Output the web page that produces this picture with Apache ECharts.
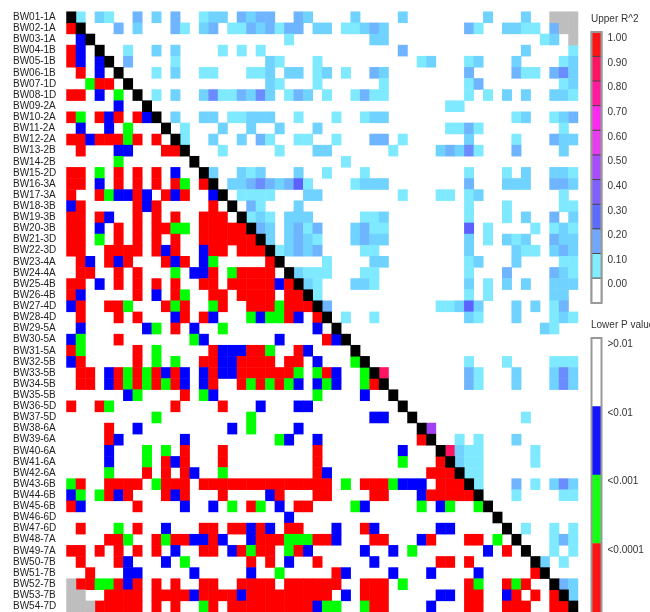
<!DOCTYPE html>
<html>
<head>
<meta charset="utf-8">
<style>html,body{margin:0;padding:0;background:#fff;overflow:hidden}#box1{width:650px;height:612px}</style>
<script src="https://cdn.jsdelivr.net/npm/echarts@6/dist/echarts.min.js"></script>
</head>
<body>
<div id="box1"></div>
<script>
var markers = ['BW01-1A','BW02-1A','BW03-1A','BW04-1B','BW05-1B','BW06-1B','BW07-1D','BW08-1D','BW09-2A','BW10-2A','BW11-2A','BW12-2A','BW13-2B','BW14-2B','BW15-2D','BW16-3A','BW17-3A','BW18-3B','BW19-3B','BW20-3B','BW21-3D','BW22-3D','BW23-4A','BW24-4A','BW25-4B','BW26-4B','BW27-4D','BW28-4D','BW29-5A','BW30-5A','BW31-5A','BW32-5B','BW33-5B','BW34-5B','BW35-5B','BW36-5D','BW37-5D','BW38-6A','BW39-6A','BW40-6A','BW41-6A','BW42-6A','BW43-6B','BW44-6B','BW45-6B','BW46-6D','BW47-6D','BW48-7A','BW49-7A','BW50-7B','BW51-7B','BW52-7B','BW53-7B','BW54-7D'];

// upper triangle, one string per marker: column(s):R^2
var upperR2 = [
'1:.06 3:.1 4:.06 7:.15 9:.1 11:.15 14:.06 15-16:.1 18:.15 19:.1 20-21:.15 24:.15 25:.1 30:.1 35:.1 44:.1 48:.1',
'5:.15 7:.1 11:.15 12:.06 14:.1 15:.15 17-18:.06 19:.15 20:.1 21:.15 22:.06 23-24:.15 26-27:.1 29-30:.06 31:.1 32:.15 33:.1 42:.15 43:.06 46-47:.1 48-49:.06 51:.15',
'23:.06 32-33:.1 50:.06 51:.1',
'6:.06 9:.1 11:.1 16:.06 18:.06 20:.06 35:.15 48:.1 53:.06',
'6:.15 11:.06 21:.1 22:.06 26:.06 37:.06 38:.1 42:.06 43:.1 47:.1 52:.06 53:.1',
'9:.06 11:.1 14-15:.06 19-20:.06 21:.1 23-24:.1 26:.06 27:.1 29:.06 32:.15 33:.1 42:.15 47:.15 48-49:.06 51:.15 52:.22 53:.1',
'21:.1 22:.06 26:.06 33:.06 42:.06 43:.15 52:.06 53:.1',
'9:.06 11:.1 14:.1 15:.22 16-17:.06 18:.15 19:.1 20:.22 21:.1 23:.06 24:.15 25:.1 27:.06 30:.06 31:.15 32-33:.06 42:.06 44:.06 46:.1 48:.1 51-52:.1 53:.06',
'40-41:.06',
'11:.1 14-15:.1 17-18:.06 19-21:.1 24:.06 28:.06 31:.06 32-33:.1 47:.06 48:.1 51:.06 52:.1 53:.15',
'12:.06 16:.1 19:.1 22:.1 26:.1 40-41:.06 42:.15 43:.06 52:.06',
'12:.06 15:.1 18:.1 20:.15 21:.06 24-25:.06 28:.06 32-33:.15 35:.06 42:.1 47:.06 51:.15 52-53:.1',
'16:.06 22:.06 26-27:.1 34:.06 39:.1 40:.15 41:.1 42:.22 43:.06 47:.15 52:.1',
'29:.06',
'15:.1 18:.1 19:.06 20:.1 24:.1 27:.06 31:.06 42:.06 46:.06 48:.1 51-52:.1 53:.06',
'17-18:.1 19:.15 20:.22 21:.15 22:.1 23:.15 24:.28 25:.06 30:.06 31-33:.1 42:.15 46-48:.1 51-52:.15 53:.1',
'18-21:.06 25-26:.1 35:.06 39-40:.06 42:.06 43:.1 52:.06',
'19:.15 20:.06 24:.1 42:.06 46:.06 52-53:.06',
'19:.06 20:.1 21:.06 23-25:.1 31-32:.06 33:.1 42:.06 46:.06 48:.1 51:.15 53:.1',
'20:.15 21:.1 23:.1 24:.15 25:.06 26:.15 30:.1 31:.15 32-33:.06 42:.28 44:.06 49:.06 51:.06 52:.1 53:.06',
'21:.1 23:.1 24:.15 25:.1 26:.06 30:.1 31:.15 32-33:.1 42:.1 44:.06 46:.1 47:.06 48:.1 51:.15 52-53:.1',
'22:.06 23:.1 24:.15 25:.1 26:.15 31-32:.06 42:.1 47:.1 48-49:.06 51:.1 52:.15 53:.1',
'27:.06 32-33:.1 42:.06 43:.1 47:.1 52-53:.06',
'24:.1 25-27:.06 31-32:.06 42:.06 46:.15 51:.15 52:.1 53:.06',
'25:.1 26:.06 30-31:.1 32:.06 42:.1 44:.06 46:.1 48:.1 51-53:.1',
'26:.06 42:.06 44:.06 51-52:.1',
'27:.15 39-40:.06 41:.1 42:.28 43:.1 47:.1 49:.1 51:.06 52:.15',
'29:.06 32:.06 42:.1 43:.06 47:.1 51:.06 52:.1 53:.06',
'50:.1 51:.06',
'',
'',
'42:.06 46:.06 51-53:.06',
'33:.9 42:.15 43:.06 47:.1 51:.1 52:.22 53:.1',
'42:.15 43:.06 47:.1 51:.1 52:.22 53:.1',
'',
'',
'48:.06',
'38:.55',
'41:.06 43:.06 47:.1',
'40:.9 41:.1 42-43:.06 49:.06',
'41:.1 42-43:.06 49:.06',
'42-43:.06',
'43:.06 47:.15 49:.06 51:.1 52:.22 53:.1',
'47:.06 52-53:.06',
'',
'',
'48:.06 51:.06 53:.06',
'51:.06 52:.15 53:.06',
'51:.06 53:.06',
'50:.1 52:.06',
'',
'52:.15 53:.1',
'53:.1',
''
];

// lower triangle: r <0.0001, g <0.001, b <0.01, then column(s)
var lowerP = [
'',
'r0',
'b1',
'r0 b1',
'r0 b1 b3',
'r1 b3',
'g2 r3-4',
'r0-1 b3 g5',
'b5',
'r0 g1 r3 b4 r5 r7 b8',
'b1 b4 g6',
'r0-1 b2 r3-5 g6 r7 r9',
'r1 b5-6 r10-11',
'g5',
'r0-1 g3 r5 r7 r9 b11',
'r0-1 b3 r5 r7 r9 r11 g12 r14',
'r0 r3 g4 b5-6 r7 b8 r10 b11 r12 b15',
'b0 r1 r7 b8 r9 r15',
'r0-1 r3 b4 r7 r9 r11 r14-16',
'r0-1 b3 r5 r7 r9-10 g11-12 r14-18',
'r0-1 g3 r5 r7 r9 r11 r14-19',
'r0-1 r4-7 r9 b10 r11 b14 r15-16 r18-20',
'r1 b2 r4 b5 r6 r10 b11 r12 b14 g15 r21',
'r1-2 r5 r7 g11 b13-14 r15 g17 r18-21',
'r0-1 b3 r5 r7 r9 r11 r14-15 r17-21 b22 r23',
'r0 b1 r7 b9 r11 g12 r15-16 r18-21 r23-24',
'b0 r1 r4-5 g6 r10 g11 r12 g15 r16 r19-21 g22 r23-25',
'r1 r5 r7 b11 r12 r14 b15 g19 b20 g21-22 r23 b24 r26',
'b1 b8 g9 r11 b13 g16 b26',
'b0 g1 r5 g13 b14 b22 r27 b28',
'r0 g1 r7 g9 r15 b16-18 r19-20 g21 r24 b25',
'b0 r1 r7 g9 g11 r14-15 b16-17 r18-21 r23-24 b26 g30',
'r1-2 b4 r5 g6 r7 g8 r9 b10 r11 b12 b14 r15 b16-17 r18-23 g24 g26 r27 b28 g31',
'r1-2 b4 r5 g6 r7 g8 r9 g10 r11 b12 b14 r15 r18 g19 r20 g21 r22 g23 b24 b26 g27 b28 g31 r32',
'b6 g7 r12 g14 b15 g26 b31',
'r0 r3 g4 r11 r16 b20 b24-25',
'g9 g19 b32-33',
'r4 b7 b17 g19 b24',
'r4 b5 b12 g22 b23 b26 r37',
'b4 g8 g10 r12 r16 r26 b35',
'b4 g8 r10 b11 r12 r16 r26 g35 r39',
'g4 r8 r10 r12 b13 g16 r26 b27 r38-40',
'g0 r1 r4-7 g9 r10-12 r14-27 g29 r31-33 g34 b35-37 r39-41',
'b0 g1 g3 r4 b5 r6 r10 b11 r12 r16 b21 r22 r26-27 r32-33 b37 r38-42',
'r0 b1 r7 b12 b15 g17 r19 g20 b22 r24-25 g30 b31 g37 b39 g40 g43',
'b23',
'r1 g5 r7 b10 r14-15 r17-18 b19 r20 b21 r23-24 b28 r31 b32 b39-40',
'r4-5 g6 r9 g10 r11-12 b13-14 r15 b16 b19 r20-22 g23-25 r26-27 b28 r32-33 b37 r38 r42-43 g45',
'r0-1 r3 r5 r7 r9 b11 r14-15 b17 r18 g19 r20-21 g23 r24 b25 b31 b34 g36 b44 r46',
'r1 r5 b6 b10 g12 r19 r21 b23 r26 b32 r39-40 r42',
'r2 b6-7 b13 b19 g22 r28 b29 b34 b38 b43 r49',
'r1-2 g3-4 r5 b6 r7 r9 r11 r14-15 r18-21 r23-28 r31-33 g35 r42 g43 r46 g47 r48',
'r4-7 r9-12 b13 r14-17 b18 r19-27 b29 r31-33 b39-40 r42-43 b46 r47 r49 r51',
'r3-7 r9 r11 g14 r15 r17-25 b26 g27-28 g31 r32-33 b38 r42-43 r46-48 r51-52'
];

var missingCells = [[51,0],[52,0],[53,0],[52,1],[53,1],[53,2],[0,51],[0,52],[1,52],[0,53],[1,53],[2,53]];

var r2Labels = ['1.00','0.90','0.80','0.70','0.60','0.50','0.40','0.30','0.20','0.10','0.00'];
var r2Colors = ['#ff1414','#ff1464','#ff1aa0','#ff28f0','#e83cf0','#a84cff','#8060ff','#5c6cff','#70a8ff','#80eeff','#ffffff'];
var pLabels = ['>0.01','<0.01','<0.001','<0.0001'];
var pColors = ['#ffffff','#1414ff','#14ff14','#ff1414'];

var pCode = { r: '#ff0000', g: '#00ff00', b: '#0000ff' };

function expand(spec) {
    var parts = spec.split('-').map(Number);
    var out = [];
    for (var c = parts[0]; c <= parts[parts.length - 1]; c++) out.push(c);
    return out;
}

var upperData = [];
upperR2.forEach(function (row, y) {
    if (!row) return;
    row.split(' ').forEach(function (tok) {
        var t = tok.split(':');
        expand(t[0]).forEach(function (x) {
            upperData.push([x, y, parseFloat(t[1])]);
        });
    });
});

var lowerData = [];
lowerP.forEach(function (row, y) {
    if (!row) return;
    row.split(' ').forEach(function (tok) {
        expand(tok.slice(1)).forEach(function (x) {
            lowerData.push({ value: [x, y, 1], itemStyle: { color: pCode[tok[0]] } });
        });
    });
});

var diagData = markers.map(function (m, i) { return [i, i, 1]; });

var myChart = echarts.init(document.getElementById('box1'), null, { renderer: 'canvas' });

var font = 'Liberation Sans';
var labelColor = '#333';

var option = {
    animation: false,
    backgroundColor: '#fff',
    title: [
        { text: 'Upper R^2', left: 586, top: 9, textStyle: { fontFamily: font, fontSize: 10, fontWeight: 'normal', color: labelColor } },
        { text: 'Lower P value', left: 586, top: 315, textStyle: { fontFamily: font, fontSize: 10, fontWeight: 'normal', color: labelColor } }
    ],
    grid: [
        { left: 66.5, top: 11.7, width: 511.5, height: 601.2 },
        { left: 591.5, top: 32, width: 10, height: 271 },
        { left: 591.5, top: 338, width: 10, height: 276 }
    ],
    xAxis: [
        { type: 'category', data: markers, gridIndex: 0, show: false },
        { type: 'category', data: ['k'], gridIndex: 1, show: false },
        { type: 'category', data: ['k'], gridIndex: 2, show: false }
    ],
    yAxis: [
        {
            type: 'category', data: markers, gridIndex: 0, inverse: true,
            axisLine: { show: false }, axisTick: { show: false },
            axisLabel: { interval: 0, align: 'left', margin: 53.5, fontFamily: font, fontSize: 10, color: '#222' }
        },
        {
            type: 'category', data: r2Labels, gridIndex: 1, inverse: true, position: 'right',
            axisLine: { show: false }, axisTick: { show: false },
            axisLabel: { interval: 0, margin: 6, verticalAlign: 'bottom', lineHeight: 12, fontFamily: font, fontSize: 10, color: labelColor }
        },
        {
            type: 'category', data: pLabels, gridIndex: 2, inverse: true, position: 'right',
            axisLine: { show: false }, axisTick: { show: false },
            axisLabel: { interval: 0, margin: 6, verticalAlign: 'bottom', lineHeight: 56, fontFamily: font, fontSize: 10, color: labelColor }
        }
    ],
    visualMap: [{
        show: false,
        type: 'piecewise',
        seriesIndex: 0,
        dimension: 2,
        pieces: [
            { value: 0.06, color: '#7feaff' },
            { value: 0.1, color: '#70d2ff' },
            { value: 0.15, color: '#6eb4ff' },
            { value: 0.22, color: '#6a8cff' },
            { value: 0.28, color: '#5c60ff' },
            { value: 0.55, color: '#a040f0' },
            { value: 0.9, color: '#ff1464' }
        ]
    }],
    series: [
        { type: 'heatmap', xAxisIndex: 0, yAxisIndex: 0, data: upperData },
        { type: 'heatmap', xAxisIndex: 0, yAxisIndex: 0, data: lowerData },
        { type: 'heatmap', xAxisIndex: 0, yAxisIndex: 0, data: diagData, itemStyle: { color: '#000' } },
        { type: 'heatmap', xAxisIndex: 0, yAxisIndex: 0, data: missingCells.map(function (c) { return [c[0], c[1], 1]; }), itemStyle: { color: '#bebebe' } },
        {
            type: 'heatmap', xAxisIndex: 1, yAxisIndex: 1,
            data: r2Colors.map(function (c, i) { return { value: [0, i, 1], itemStyle: { color: c, borderColor: '#444', borderWidth: 1 } }; })
        },
        {
            type: 'heatmap', xAxisIndex: 2, yAxisIndex: 2,
            data: pColors.map(function (c, i) { return { value: [0, i, 1], itemStyle: { color: c } }; })
        }
    ],
    graphic: [
        { type: 'rect', z: 100, shape: { x: 591.5, y: 32, width: 10, height: 271 }, style: { fill: 'none', stroke: '#999', lineWidth: 2 } },
        { type: 'rect', z: 100, shape: { x: 591.5, y: 338, width: 10, height: 276 }, style: { fill: 'none', stroke: '#999', lineWidth: 2 } }
    ]
};

myChart.setOption(option);
</script>
</body>
</html>
